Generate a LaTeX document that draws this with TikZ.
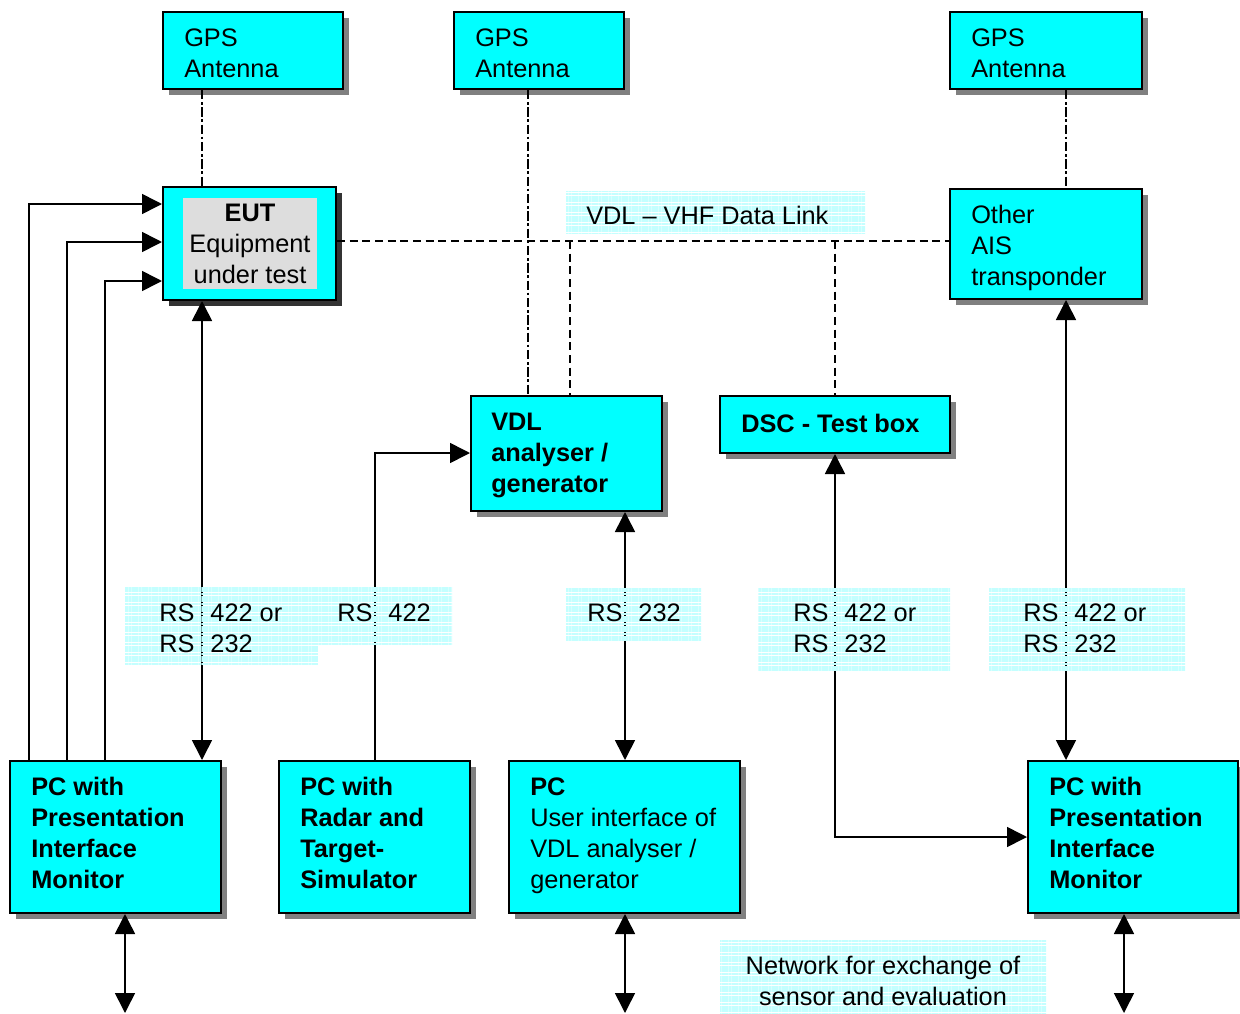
\documentclass[tikz,border=0pt]{standalone}
\usepackage{fontspec}
\setmainfont{Liberation Sans}
\usetikzlibrary{arrows.meta,shadows,patterns.meta}
\definecolor{boxcyan}{HTML}{00FFFF}
\definecolor{stripecyan}{HTML}{C4FFFF}
\definecolor{shadowgray}{HTML}{808080}
\definecolor{darkshadow}{HTML}{333333}
\definecolor{eutgray}{HTML}{DDDDDD}
\begin{document}
\begin{tikzpicture}[x=0.75pt,y=-0.75pt,
  box/.style={draw=black,line width=1.5pt,fill=boxcyan,inner sep=0pt,
    drop shadow={shadow xshift=4.5pt,shadow yshift=-4.5pt,fill=shadowgray,opacity=1}},
  darkbox/.style={box,drop shadow={shadow xshift=4.5pt,shadow yshift=-4.5pt,fill=darkshadow,opacity=1}},
  txt/.style={inner sep=0pt,align=left,anchor=west,font=\fontsize{19}{23.3}\selectfont},
  btxt/.style={txt,font=\fontsize{19}{23.3}\selectfont\bfseries},
  conn/.style={line width=1.2pt,draw=black},
  tip/.style={conn,-{Triangle[length=15pt,width=15pt]}},
  both/.style={conn,{Triangle[length=15pt,width=15pt]}-{Triangle[length=15pt,width=15pt]}},
  dashln/.style={line width=1.2pt,dash pattern=on 6pt off 3.5pt},
  dashdot/.style={line width=1.2pt,dash pattern=on 7pt off 2pt on 2pt off 2pt},
  stripes/.style={pattern={Lines[angle=0,distance=2.5pt,line width=1.8pt]},pattern color=stripecyan}
]
\useasboundingbox (0,0) rectangle (1240,1014);

% boxes
\node[box,minimum width=135pt,minimum height=57.75pt] (gps1) at (253,50.5) {};
\node[box,minimum width=127.5pt,minimum height=57.75pt] (gps2) at (539,50.5) {};
\node[box,minimum width=144pt,minimum height=57.75pt] (gps3) at (1046,50.5) {};
\node[darkbox,minimum width=129.75pt,minimum height=84.75pt] (eut) at (249.5,243.5) {};
\node[fill=eutgray,inner sep=0pt,minimum width=100.5pt,minimum height=68.25pt] (eutin) at (250,243.5) {};
\node[box,minimum width=144pt,minimum height=82.5pt] (ais) at (1046,244) {};
\node[box,minimum width=143.25pt,minimum height=86.25pt] (vdl) at (566.5,453.5) {};
\node[box,minimum width=172.5pt,minimum height=42.75pt] (dsc) at (835,424.5) {};
\node[box,minimum width=158.25pt,minimum height=114pt] (pc1) at (115.5,837) {};
\node[box,minimum width=143.25pt,minimum height=114pt] (pc2) at (374.5,837) {};
\node[box,minimum width=173.25pt,minimum height=114pt] (pc3) at (624.5,837) {};
\node[box,minimum width=157.5pt,minimum height=114pt] (pc4) at (1133,837) {};

% box texts
\node[txt] (gps1t) at (184,53.5) {GPS\\Antenna};
\node[txt] (gps2t) at (475,53.5) {GPS\\Antenna};
\node[txt] (gps3t) at (971,53.5) {GPS\\Antenna};
\node[txt,align=center,anchor=center] (eutt) at (250,244) {\textbf{EUT}\\Equipment\\under test};
\node[txt] (aist) at (971,248) {Other\\AIS\\transponder};
\node[btxt] (vdlt) at (491,455.5) {VDL\\analyser /\\generator};
\node[btxt] (dsct) at (741,423) {DSC - Test box};
\node[btxt] (pc1t) at (31,833) {PC with\\Presentation\\Interface\\Monitor};
\node[btxt] (pc2t) at (300,833) {PC with\\Radar and\\Target-\\Simulator};
\node[txt] (pc3t) at (530,835.5) {\textbf{PC}\\User interface of\\VDL analyser /\\generator};
\node[btxt] (pc4t) at (1049,833) {PC with\\Presentation\\Interface\\Monitor};

% free ends
\coordinate (net1) at (125,1013);
\coordinate (net3) at (625,1013);
\coordinate (net4) at (1124,1013);

% GPS links
\draw[dashdot] (gps1.south -| 202,0) -- (eut.north -| 202,0);
\draw[dashdot] (gps2.south -| 528,0) -- (vdl.north -| 528,0);
\draw[dashdot] (gps3.south -| 1066,0) -- (ais.north -| 1066,0);

% VDL data link
\draw[dashln] (eut.east |- 0,241) -- (ais.west |- 0,241);
\draw[dashln] (570,241) -- (vdl.north -| 570,0);
\draw[dashln] (835,241) -- (dsc.north);

% connections
\draw[both] (eut.south -| 202,0) -- (pc1.north -| 202,0);
\draw[tip] (pc1.north -| 29,0) |- (eut.west |- 0,204);
\draw[tip] (pc1.north -| 67,0) |- (eut.west |- 0,242);
\draw[tip] (pc1.north -| 105,0) |- (eut.west |- 0,281);
\draw[tip] (pc2.north -| 375,0) |- (vdl.west |- 0,453);
\draw[both] (vdl.south -| 625,0) -- (pc3.north -| 625,0);
\draw[both] (dsc.south) |- (pc4.west);
\draw[both] (ais.south -| 1066,0) -- (pc4.north -| 1066,0);
\draw[both] (pc1.south -| net1) -- (net1);
\draw[both] (pc3.south -| net3) -- (net3);
\draw[both] (pc4.south -| net4) -- (net4);

% striped labels
\fill[stripes] (566,191) rectangle (865,233);
\fill[stripes] (125,587) rectangle (318,665);
\fill[stripes] (318,587) rectangle (452,645);
\fill[stripes] (566,588) rectangle (701,640);
\fill[stripes] (758,588) rectangle (950,670);
\fill[stripes] (989,588) rectangle (1185,670);
\fill[stripes] (720,940) rectangle (1046,1014);

\node[txt] (vdlink) at (586,215) {VDL -- VHF Data Link};
\node[txt] (rs1) at (159,628) {RS\hspace{12pt}422 or\\RS\hspace{12pt}232};
\node[txt] (rs2) at (337,613) {RS\hspace{12pt}422};
\node[txt] (rs3) at (587,613) {RS\hspace{12pt}232};
\node[txt] (rs4) at (793,628) {RS\hspace{12pt}422 or\\RS\hspace{12pt}232};
\node[txt] (rs5) at (1023,628) {RS\hspace{12pt}422 or\\RS\hspace{12pt}232};
\node[txt,align=center,anchor=center] (net) at (883,981) {Network for exchange of\\sensor and evaluation};
\end{tikzpicture}
\end{document}
